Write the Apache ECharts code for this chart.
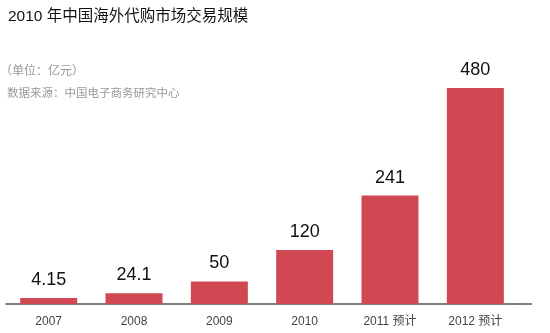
<!DOCTYPE html>
<html>
<head>
<meta charset="utf-8">
<script src="https://cdn.jsdelivr.net/npm/echarts@6/dist/echarts.min.js"></script>
<style>
  html, body { margin: 0; padding: 0; background: #fff; }
  #chart { width: 550px; height: 333px; }
</style>
</head>
<body>
<div id="chart"></div>
<script>
// 2010 overseas purchasing-agent market size (100 million yuan)
const categories = ['2007', '2008', '2009', '2010', '2011 预计', '2012 预计'];
const values = [4.15, 24.1, 50, 120, 241, 480];

const chart = echarts.init(document.getElementById('chart'), null, { renderer: 'canvas' });
const fontFamily = 'Arial, "Liberation Sans", "Noto Sans CJK SC", sans-serif';

chart.setOption({
  animation: false,
  backgroundColor: '#ffffff',
  title: [
    {
      text: '2010 年中国海外代购市场交易规模',
      left: 8, top: 9, padding: 0,
      textStyle: { fontFamily, fontSize: 15.5, fontWeight: 'normal', color: '#111111' }
    },
    {
      text: '（单位：亿元）',
      left: 0, top: 66, padding: 0,
      textStyle: { fontFamily, fontSize: 12, fontWeight: 'normal', color: '#999999' }
    },
    {
      text: '数据来源：中国电子商务研究中心',
      left: 7, top: 88, padding: 0,
      textStyle: { fontFamily, fontSize: 11.5, fontWeight: 'normal', color: '#999999' }
    }
  ],
  grid: { left: 6, right: 32, top: 88, bottom: 29, containLabel: false },
  xAxis: {
    type: 'category',
    data: categories,
    axisLine: { show: true, lineStyle: { color: '#555555', width: 1.5 } },
    axisTick: { show: false },
    axisLabel: { fontFamily, fontSize: 12, color: '#444444', margin: 12 }
  },
  yAxis: {
    type: 'value',
    min: 0, max: 480,
    show: false
  },
  series: [{
    type: 'bar',
    data: values,
    barWidth: 57,
    barMinHeight: 6,
    itemStyle: { color: '#d14852' },
    label: {
      show: true,
      position: 'top',
      distance: 9,
      fontFamily,
      fontSize: 18,
      color: '#111111'
    }
  }],
  graphic: [{
    // extends the baseline slightly past the last category band
    type: 'line',
    shape: { x1: 518, y1: 304, x2: 532, y2: 304 },
    style: { stroke: '#555555', lineWidth: 1.5 }
  }]
});
</script>
</body>
</html>
